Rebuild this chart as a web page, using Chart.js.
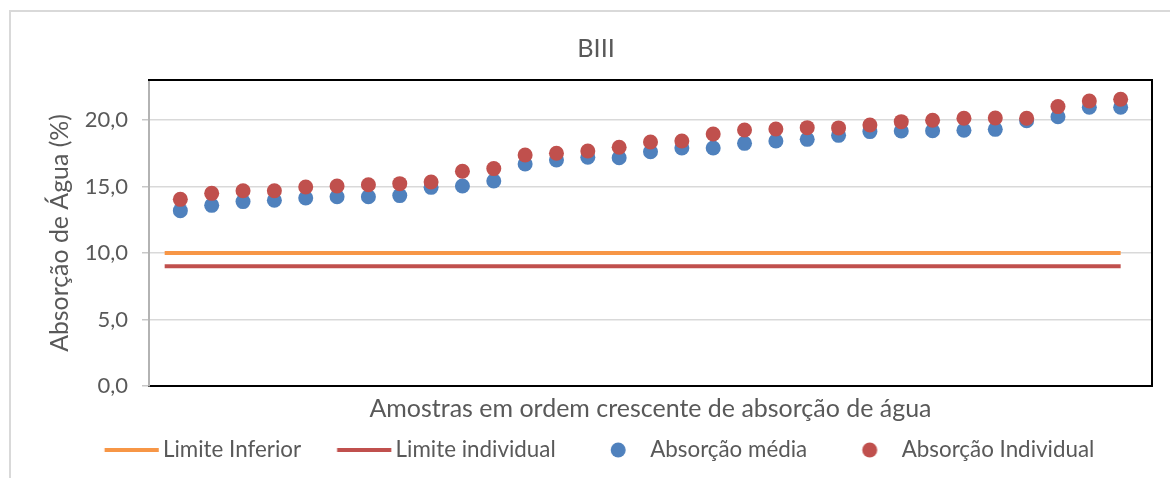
<!DOCTYPE html>
<html>
<head>
<meta charset="utf-8">
<script src="https://cdn.jsdelivr.net/npm/chart.js@4.4.1/dist/chart.umd.min.js"></script>
<style>
html,body{margin:0;padding:0;background:#fff;overflow:hidden}
#wrap{position:relative;width:1170px;height:478px;overflow:hidden}
#frame{position:absolute;left:9px;top:10px;width:1200px;height:500px;border-left:2px solid #d9d9d9;border-top:2px solid #d9d9d9}
#c{position:absolute;left:0;top:0}
</style>
</head>
<body>
<div id="wrap"><div id="frame"></div><canvas id="c" width="1170" height="478"></canvas></div>
<script>
// ---- data ----
const chartTitle = 'BIII';
const xAxisTitle = 'Amostras em ordem crescente de absorção de água';
const yAxisTitle = 'Absorção de Água (%)';
const seriesNames = ['Limite Inferior', 'Limite individual', 'Absorção média', 'Absorção Individual'];
const samples = [1,2,3,4,5,6,7,8,9,10,11,12,13,14,15,16,17,18,19,20,21,22,23,24,25,26,27,28,29,30,31];
const absorcaoMedia = [13.18,13.58,13.86,13.96,14.13,14.23,14.23,14.31,14.93,15.03,15.41,16.69,16.99,17.19,17.16,17.61,17.89,17.89,18.24,18.42,18.54,18.84,19.12,19.17,19.19,19.22,19.29,19.94,20.24,20.95,20.95];
const absorcaoIndividual = [14.03,14.48,14.68,14.68,14.96,15.03,15.13,15.21,15.33,16.14,16.34,17.36,17.49,17.66,17.94,18.34,18.42,18.94,19.24,19.32,19.42,19.40,19.62,19.87,19.97,20.12,20.14,20.12,21.00,21.42,21.55];
const limiteInferior = 10.0;
const limiteIndividual = 9.0;
const limiteX = [0.5, 31];
const xRange = [0, 32];
const yRange = [0, 23];
const yStep = 5;

// ---- style / layout helpers ----
const FAMILY = 'Lato';
const TEXT = '#595959';
const mctx = document.createElement('canvas').getContext('2d');
function ink(t, s){ mctx.font = s + 'px ' + FAMILY; const m = mctx.measureText(t); return m.actualBoundingBoxLeft + m.actualBoundingBoxRight; }
function adv(t, s){ mctx.font = s + 'px ' + FAMILY; return mctx.measureText(t).width; }
function fitSize(texts, target){ const w = texts.reduce((a,t)=>a+ink(t,100),0); return 100*target/w; }

const titleSize = fitSize([chartTitle], 33);
const xTitleSize = fitSize([xAxisTitle], 561);
const yTitleSize = fitSize([yAxisTitle], 237);
const tickSize = fitSize(['20,0'], 41.7);
const legendSize = fitSize(seriesNames, 640);

const L = 40, R = 18, W = 1170, H = 478;
const chartTop = 80, chartBottom = 386, chartLeft = 149, chartRight = W - R;
// title
const titleMid = 49;
const tLH = titleSize * 1.2;
const titlePadTop = titleMid - tLH/2;
const titlePadBottom = chartTop - titleMid - tLH/2;
// legend
const hf = legendSize/2;
const advs = seriesNames.map(t => adv(t, legendSize));
const O1 = 163, O4 = 901.7;
const S = (O4 - O1 - advs[0] - advs[1] - advs[2]) / 3;
const sumA = advs.reduce((a,b)=>a+b,0);
const legPad = L + chartRight - 2*S - sumA - 2*O1;
const boxW = S - legPad - hf;
const legendMid = 450;
const legendTop = legendMid - legPad - hf;
const layoutBottom = H - (legendTop + legendSize + legPad + 10);
// x title
const xLH = xTitleSize * 1.2;
const xTitleMid = 409;
const xPadTop = xTitleMid - chartBottom - xLH/2;
const xPadBottom = legendTop - chartBottom - xLH - xPadTop;
// y title
const yLH = yTitleSize * 1.2;
const yPadTop = 59.5 - L - yLH/2;

function legendImage(kind, color){
  const Wi = Math.max(80, Math.ceil(boxW + 2*hf) + 2);
  const Hi = 20;
  const cv = document.createElement('canvas');
  cv.width = Wi; cv.height = Hi;
  const g = cv.getContext('2d');
  const uText = boxW/2 + hf + Wi/2;
  g.fillStyle = color; g.strokeStyle = color;
  if (kind === 'line') {
    g.lineWidth = 4;
    g.beginPath(); g.moveTo(uText - 58.5, Hi/2); g.lineTo(uText - 4.3, Hi/2); g.stroke();
  } else {
    g.beginPath(); g.arc(uText - 32, Hi/2, 7.5, 0, Math.PI*2); g.fill();
  }
  return cv;
}
const COLORS = ['#F79646', '#C0504D', '#4F81BD', '#C0504D'];
const legendImgs = [legendImage('line', COLORS[0]), legendImage('line', COLORS[1]), legendImage('dot', COLORS[2]), legendImage('dot', COLORS[3])];

Chart.defaults.font.family = FAMILY;
Chart.defaults.color = TEXT;

const frameAxis = {
  type: 'linear', display: true,
  grid: { display: false, drawTicks: false },
  ticks: { display: false },
  border: { display: true, color: '#000', width: 2 }
};

new Chart(document.getElementById('c'), {
  type: 'scatter',
  data: {
    datasets: [
      { label: seriesNames[0], data: limiteX.map(x => ({x, y: limiteInferior})), showLine: true, borderColor: COLORS[0], backgroundColor: COLORS[0], borderWidth: 4, pointRadius: 0, pointHoverRadius: 0 },
      { label: seriesNames[1], data: limiteX.map(x => ({x, y: limiteIndividual})), showLine: true, borderColor: COLORS[1], backgroundColor: COLORS[1], borderWidth: 4, pointRadius: 0, pointHoverRadius: 0 },
      { label: seriesNames[2], data: samples.map((s,i) => ({x: s, y: absorcaoMedia[i]})), backgroundColor: COLORS[2], borderColor: COLORS[2], borderWidth: 0, pointRadius: 7.5, pointHoverRadius: 7.5 },
      { label: seriesNames[3], data: samples.map((s,i) => ({x: s, y: absorcaoIndividual[i]})), backgroundColor: COLORS[3], borderColor: COLORS[3], borderWidth: 0, pointRadius: 7.5, pointHoverRadius: 7.5, order: -1 }
    ]
  },
  options: {
    responsive: false,
    animation: false,
    events: [],
    layout: { padding: { left: L, right: R, top: 0, bottom: layoutBottom } },
    plugins: {
      tooltip: { enabled: false },
      title: { display: true, text: chartTitle, color: TEXT, font: { size: titleSize, weight: 'normal' }, padding: { top: titlePadTop, bottom: titlePadBottom } },
      legend: {
        position: 'bottom', align: 'center',
        labels: {
          usePointStyle: true, pointStyleWidth: boxW, padding: legPad, color: TEXT,
          font: { size: legendSize },
          generateLabels(chart) {
            const items = Chart.defaults.plugins.legend.labels.generateLabels(chart);
            items.sort((a,b) => a.datasetIndex - b.datasetIndex);
            items.forEach(it => { it.pointStyle = legendImgs[it.datasetIndex]; });
            return items;
          }
        }
      }
    },
    scales: {
      x: {
        type: 'linear', position: 'bottom', min: xRange[0], max: xRange[1],
        grid: { display: false, drawTicks: false },
        ticks: { display: false },
        border: { display: true, color: '#000', width: 2 },
        title: { display: true, text: xAxisTitle, color: TEXT, font: { size: xTitleSize }, padding: { top: xPadTop, bottom: xPadBottom } }
      },
      y: {
        type: 'linear', position: 'left', min: yRange[0], max: yRange[1],
        afterFit(s) { s.width = chartLeft - L; },
        ticks: { stepSize: yStep, includeBounds: false, padding: 14, color: TEXT, font: { size: tickSize },
          callback: v => v.toFixed(1).replace('.', ',') },
        grid: { color: '#d9d9d9', lineWidth: 1.5, tickLength: 7, tickColor: '#c8c8c8' },
        border: { display: true, color: '#b3b3b3', width: 2 },
        title: { display: true, text: yAxisTitle, color: TEXT, font: { size: yTitleSize }, padding: { top: yPadTop, bottom: 0 } }
      },
      x2: Object.assign({ position: 'top' }, frameAxis),
      y2: Object.assign({ position: 'right' }, frameAxis)
    }
  }
});
</script>
</body>
</html>
